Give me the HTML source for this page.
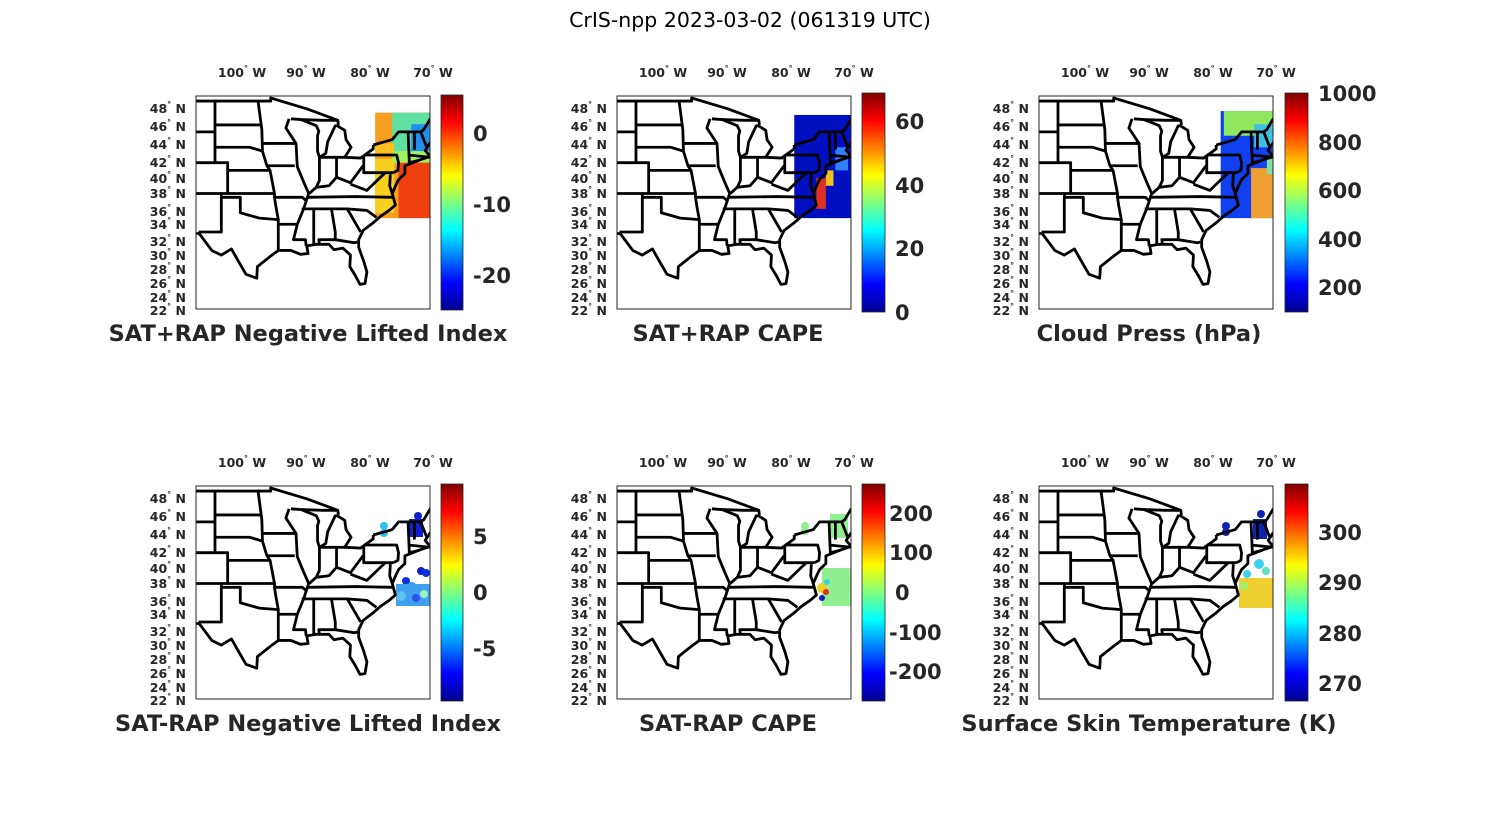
<!DOCTYPE html>
<html><head><meta charset="utf-8"><style>
html,body{margin:0;padding:0;background:#fff}
svg{display:block}
text{font-family:"DejaVu Sans","Liberation Sans",sans-serif;fill:#262626}
.lon{font-size:12.5px;font-weight:bold;text-anchor:middle}
.lat{font-size:12.5px;font-weight:bold;text-anchor:end}
.cb{font-size:21px;font-weight:bold}
.ttl{font-size:22.5px;font-weight:bold;text-anchor:middle}
.st{fill:none;stroke:#000;stroke-width:2.8;stroke-linejoin:round}
</style></head><body>
<svg width="1500" height="825" viewBox="0 0 1500 825" xmlns="http://www.w3.org/2000/svg">
<defs>
<linearGradient id="jet" x1="0" y1="1" x2="0" y2="0">
<stop offset="0" stop-color="#00008f"/><stop offset="0.125" stop-color="#0000ff"/>
<stop offset="0.375" stop-color="#00ffff"/><stop offset="0.625" stop-color="#ffff00"/>
<stop offset="0.875" stop-color="#ff0000"/><stop offset="1" stop-color="#800000"/>
</linearGradient>
<clipPath id="box"><rect x="0" y="0" width="234" height="213"/></clipPath>
<g id="map" class="st">
<polyline vector-effect="non-scaling-stroke" points="-67,47.4 -67,45 -70,43.6 -70.8,42.6 -70,41.8 -71.5,41.4 -74,40.6 -74,39.6 -75,38.8 -75.3,38.3 -76,37 -75.5,35.5 -76.5,34.8 -77.9,34 -79,33.2 -80.6,32.2 -81.3,31 -81.3,30 -80.5,28.2 -80,26.8 -80.3,25.3 -81.1,25.2 -81.8,26.3 -82.7,27.5 -82.6,29 -83.8,29.9 -85.2,29.7 -86,30.4 -88,30.4 -89.5,30.2 -89.3,29.2 -90.5,29.1 -92,29.6 -94,29.6 -95,29 -97.3,27.5 -97.4,26 -99.1,26.5 -100.3,28.2 -101.4,29.8 -103,29 -104.5,29.6 -106.5,31.8 -107,31.8"/>
<polyline vector-effect="non-scaling-stroke" points="-107,49 -95.2,49 -95.2,49.4 -89.5,48 -84.6,46.5 -84.5,45.9"/>
<polyline vector-effect="non-scaling-stroke" points="-104,49 -104,41 -102,41 -102,37 -103,37 -103,32 -106.6,32"/>
<polyline vector-effect="non-scaling-stroke" points="-107,45 -104,45"/>
<polyline vector-effect="non-scaling-stroke" points="-107,41 -104,41"/>
<polyline vector-effect="non-scaling-stroke" points="-107,37 -103,37"/>
<polyline vector-effect="non-scaling-stroke" points="-104,45.9 -96.6,45.9"/>
<polyline vector-effect="non-scaling-stroke" points="-104,43 -98.5,43 -96.5,42.5"/>
<polyline vector-effect="non-scaling-stroke" points="-102,40 -95.3,40"/>
<polyline vector-effect="non-scaling-stroke" points="-102,37 -94.6,37"/>
<polyline vector-effect="non-scaling-stroke" points="-103,36.5 -100,36.5 -100,34.5 -97,33.8 -94,33.6 -94,29.6"/>
<polyline vector-effect="non-scaling-stroke" points="-97.2,49 -96.6,45.3 -96.5,42.5 -95.8,40.6 -95.3,40 -94.6,37 -94.6,36.5 -94.4,35.4 -94,33.6"/>
<polyline vector-effect="non-scaling-stroke" points="-96.5,43.5 -91.2,43.5"/>
<polyline vector-effect="non-scaling-stroke" points="-95.8,40.6 -91.4,40.6"/>
<polyline vector-effect="non-scaling-stroke" points="-94.6,36.5 -90.2,36.5 -89.5,36"/>
<polyline vector-effect="non-scaling-stroke" points="-94,33 -91.2,33"/>
<polyline vector-effect="non-scaling-stroke" points="-92.3,46.7 -92.8,45.5 -91.2,43.5 -91,40.5 -90,38.5 -89.2,37 -90,35 -91,33 -91.6,31 -89.7,31 -89.6,30.2"/>
<polyline vector-effect="non-scaling-stroke" points="-89.5,36.5 -81.7,36.6 -75.9,36.5"/>
<polyline vector-effect="non-scaling-stroke" points="-90.3,35 -83.1,35 -80,34.8 -78.5,33.9"/>
<polyline vector-effect="non-scaling-stroke" points="-88.4,35 -88.4,30.4"/>
<polyline vector-effect="non-scaling-stroke" points="-85.6,35 -85,32 -85,31 -87.6,31 -87.5,30.4"/>
<polyline vector-effect="non-scaling-stroke" points="-85,31 -82,30.6 -81.5,30.7"/>
<polyline vector-effect="non-scaling-stroke" points="-83.1,35 -81,32"/>
<polyline vector-effect="non-scaling-stroke" points="-89.1,37 -88,37.8 -86,38 -84.8,39.1 -82.6,38.4 -80.6,40.6"/>
<polyline vector-effect="non-scaling-stroke" points="-87.5,41.7 -87.5,38.7 -88,37.8"/>
<polyline vector-effect="non-scaling-stroke" points="-84.8,41.7 -84.8,39.1"/>
<polyline vector-effect="non-scaling-stroke" points="-87.5,41.7 -83.5,41.7"/>
<polyline vector-effect="non-scaling-stroke" points="-80.5,42 -80.5,39.7 -75.8,39.7"/>
<polyline vector-effect="non-scaling-stroke" points="-80.5,42 -75.3,42 -75,41 -75.1,40 -75.8,39.7"/>
<polyline vector-effect="non-scaling-stroke" points="-82.6,38.2 -80,37.4 -78,39 -77.2,39.6"/>
<polyline vector-effect="non-scaling-stroke" points="-73.5,45 -73.3,41 -71.8,41.3"/>
<polyline vector-effect="non-scaling-stroke" points="-71.5,45 -70.6,43.1"/>
<polyline vector-effect="non-scaling-stroke" points="-72.5,45 -72.5,42.7"/>
<polyline vector-effect="non-scaling-stroke" points="-73.5,42 -70,41.7"/>
<polyline vector-effect="non-scaling-stroke" points="-79,43.3 -76,44 -75,45 -71.5,45 -71,45.3 -70,46.7 -69,47.4 -67.8,47"/>
<polyline vector-effect="non-scaling-stroke" points="-92,46.7 -90.4,46.6 -88,45.8 -87.6,45.1 -87.8,44.5 -87.8,42.5 -87.5,41.7 -86.5,42.2 -86.2,43.7 -85,45.8 -84.7,45.8 -83.5,45.2 -83.3,44 -82.5,43 -83.5,41.7 -81,41.6 -79,42.8 -79,43.3"/>
<polyline vector-effect="non-scaling-stroke" points="-90.4,46.6 -87,46.5 -84.6,46.5"/>
<polyline vector-effect="non-scaling-stroke" points="-76.3,39.5 -76.4,38 -76,37"/>
</g>
</defs>

<text x="750" y="27" style="font-size:20.5px;text-anchor:middle;fill:#000">CrIS-npp 2023-03-02 (061319 UTC)</text>

<g id="axlab">
<text class="lon" x="242" y="77">100<tspan dy="-6" font-size="8">°</tspan><tspan dy="6"> W</tspan></text>
<text class="lon" x="306" y="77">90<tspan dy="-6" font-size="8">°</tspan><tspan dy="6"> W</tspan></text>
<text class="lon" x="370" y="77">80<tspan dy="-6" font-size="8">°</tspan><tspan dy="6"> W</tspan></text>
<text class="lon" x="433" y="77">70<tspan dy="-6" font-size="8">°</tspan><tspan dy="6"> W</tspan></text>
<text class="lat" x="186" y="113">48<tspan dy="-6" font-size="8">°</tspan><tspan dy="6"> N</tspan></text>
<text class="lat" x="186" y="131">46<tspan dy="-6" font-size="8">°</tspan><tspan dy="6"> N</tspan></text>
<text class="lat" x="186" y="149">44<tspan dy="-6" font-size="8">°</tspan><tspan dy="6"> N</tspan></text>
<text class="lat" x="186" y="167">42<tspan dy="-6" font-size="8">°</tspan><tspan dy="6"> N</tspan></text>
<text class="lat" x="186" y="183">40<tspan dy="-6" font-size="8">°</tspan><tspan dy="6"> N</tspan></text>
<text class="lat" x="186" y="198">38<tspan dy="-6" font-size="8">°</tspan><tspan dy="6"> N</tspan></text>
<text class="lat" x="186" y="216">36<tspan dy="-6" font-size="8">°</tspan><tspan dy="6"> N</tspan></text>
<text class="lat" x="186" y="229">34<tspan dy="-6" font-size="8">°</tspan><tspan dy="6"> N</tspan></text>
<text class="lat" x="186" y="246">32<tspan dy="-6" font-size="8">°</tspan><tspan dy="6"> N</tspan></text>
<text class="lat" x="186" y="260">30<tspan dy="-6" font-size="8">°</tspan><tspan dy="6"> N</tspan></text>
<text class="lat" x="186" y="274">28<tspan dy="-6" font-size="8">°</tspan><tspan dy="6"> N</tspan></text>
<text class="lat" x="186" y="288">26<tspan dy="-6" font-size="8">°</tspan><tspan dy="6"> N</tspan></text>
<text class="lat" x="186" y="302">24<tspan dy="-6" font-size="8">°</tspan><tspan dy="6"> N</tspan></text>
<text class="lat" x="186" y="315">22<tspan dy="-6" font-size="8">°</tspan><tspan dy="6"> N</tspan></text>
</g>
<use href="#axlab" x="421" y="0"/><use href="#axlab" x="843" y="0"/>
<use href="#axlab" x="0" y="390"/><use href="#axlab" x="421" y="390"/><use href="#axlab" x="843" y="390"/>

<!-- Panel 1 -->
<g transform="translate(196,96)"><g clip-path="url(#box)">
<g transform="scale(6.33,7.7) translate(107,49.66) scale(1,-1)">
<rect x="-78.7" y="33.8" width="11.7" height="13.7" fill="#f5a020"/>
<rect x="-76" y="42.5" width="9" height="5" fill="#60e0a0"/>
<rect x="-73" y="42" width="6" height="4" fill="#2090f0"/>
<rect x="-78.7" y="42" width="3" height="1.5" fill="#ffc020"/>
<rect x="-75" y="33.8" width="8" height="7.4" fill="#f04010"/>
<rect x="-78.7" y="34.5" width="3" height="7" fill="#f8d020"/>
<rect x="-76" y="41" width="6" height="1.5" fill="#a0f060"/>
</g>
<use href="#map" transform="scale(6.33,7.7) translate(107,49.66) scale(1,-1)"/>
</g><rect x="0" y="0" width="234" height="213" fill="none" stroke="#262626" stroke-width="1"/></g>
<rect x="441" y="95" width="22" height="215" fill="url(#jet)" stroke="#262626" stroke-width="0.8"/>
<text class="cb" x="473" y="141">0</text><text class="cb" x="473" y="212">-10</text><text class="cb" x="473" y="283">-20</text>
<text class="ttl" x="308" y="341">SAT+RAP Negative Lifted Index</text>

<!-- Panel 2 -->
<g transform="translate(617,96)"><g clip-path="url(#box)">
<g transform="scale(6.33,7.7) translate(107,49.66) scale(1,-1)">
<rect x="-79" y="33.8" width="12" height="13.4" fill="#0010c0"/>
<rect x="-72.5" y="40" width="2" height="3" fill="#3080ff"/>
<rect x="-75.5" y="35" width="1.5" height="4" fill="#e03020"/>
<rect x="-74" y="38" width="1.2" height="2" fill="#f0c020"/>
</g>
<use href="#map" transform="scale(6.33,7.7) translate(107,49.66) scale(1,-1)"/>
</g><rect x="0" y="0" width="234" height="213" fill="none" stroke="#262626" stroke-width="1"/></g>
<rect x="862" y="93" width="23" height="219" fill="url(#jet)" stroke="#262626" stroke-width="0.8"/>
<text class="cb" x="895" y="129">60</text><text class="cb" x="895" y="193">40</text><text class="cb" x="895" y="256">20</text><text class="cb" x="895" y="320">0</text>
<text class="ttl" x="728" y="341">SAT+RAP CAPE</text>

<!-- Panel 3 -->
<g transform="translate(1039,96)"><g clip-path="url(#box)">
<g transform="scale(6.33,7.7) translate(107,49.66) scale(1,-1)">
<rect x="-78.3" y="33.8" width="11.3" height="13.9" fill="#1040f0"/>
<rect x="-77.8" y="44.5" width="10.8" height="3.2" fill="#90e860"/>
<rect x="-73" y="43" width="6" height="3" fill="#40c0e0"/>
<rect x="-73.5" y="33.8" width="6.5" height="6.5" fill="#f0a030"/>
<rect x="-71" y="39.5" width="4" height="2" fill="#80e0a0"/>
</g>
<use href="#map" transform="scale(6.33,7.7) translate(107,49.66) scale(1,-1)"/>
</g><rect x="0" y="0" width="234" height="213" fill="none" stroke="#262626" stroke-width="1"/></g>
<rect x="1285" y="93" width="23" height="219" fill="url(#jet)" stroke="#262626" stroke-width="0.8"/>
<text class="cb" x="1318" y="101">1000</text><text class="cb" x="1318" y="150">800</text><text class="cb" x="1318" y="198">600</text><text class="cb" x="1318" y="247">400</text><text class="cb" x="1318" y="295">200</text>
<text class="ttl" x="1149" y="341">Cloud Press (hPa)</text>

<!-- Panel 4 -->
<g transform="translate(196,486)"><g clip-path="url(#box)">
<circle cx="188" cy="40" r="4" fill="#30c0f0"/><circle cx="188" cy="47" r="4" fill="#30c0f0"/>
<rect x="213" y="33" width="14" height="18" fill="#1020d0"/><circle cx="222" cy="30" r="4" fill="#1020d0"/>
<circle cx="210" cy="95" r="4" fill="#1030e0"/><circle cx="216" cy="100" r="4" fill="#30a0f0"/>
<rect x="200" y="98" width="34" height="22" fill="#40a0f0"/><circle cx="225" cy="85" r="4" fill="#1020d0"/>
<circle cx="230" cy="87" r="4" fill="#1030e0"/><circle cx="205" cy="110" r="5" fill="#60c0f0"/>
<circle cx="220" cy="112" r="4" fill="#3050f0"/><circle cx="228" cy="108" r="4" fill="#a0f0c0"/>
<use href="#map" transform="scale(6.33,7.7) translate(107,49.66) scale(1,-1)"/>
</g><rect x="0" y="0" width="234" height="213" fill="none" stroke="#262626" stroke-width="1"/></g>
<rect x="441" y="484" width="22" height="217" fill="url(#jet)" stroke="#262626" stroke-width="0.8"/>
<text class="cb" x="473" y="544">5</text><text class="cb" x="473" y="600">0</text><text class="cb" x="473" y="656">-5</text>
<text class="ttl" x="308" y="731">SAT-RAP Negative Lifted Index</text>

<!-- Panel 5 -->
<g transform="translate(617,486)"><g clip-path="url(#box)">
<circle cx="188" cy="40" r="4" fill="#90f090"/><circle cx="188" cy="45" r="4" fill="#90f090"/>
<rect x="213" y="28" width="18" height="24" fill="#90f090"/>
<rect x="205" y="82" width="29" height="38" fill="#90f090"/>
<circle cx="205" cy="102" r="5" fill="#f0d020"/><circle cx="209" cy="106" r="3" fill="#e03020"/>
<circle cx="205" cy="112" r="3" fill="#1020c0"/><circle cx="210" cy="96" r="3" fill="#40d0e0"/>
<use href="#map" transform="scale(6.33,7.7) translate(107,49.66) scale(1,-1)"/>
</g><rect x="0" y="0" width="234" height="213" fill="none" stroke="#262626" stroke-width="1"/></g>
<rect x="862" y="484" width="23" height="217" fill="url(#jet)" stroke="#262626" stroke-width="0.8"/>
<text class="cb" x="889" y="521">200</text><text class="cb" x="889" y="560">100</text><text class="cb" x="895" y="600">0</text><text class="cb" x="889" y="640">-100</text><text class="cb" x="889" y="679">-200</text>
<text class="ttl" x="728" y="731">SAT-RAP CAPE</text>

<!-- Panel 6 -->
<g transform="translate(1039,486)"><g clip-path="url(#box)">
<circle cx="187" cy="40" r="4" fill="#1020b0"/><circle cx="187" cy="46" r="4" fill="#1020b0"/>
<rect x="214" y="33" width="14" height="20" fill="#1020b0"/><circle cx="222" cy="28" r="4" fill="#1020b0"/>
<rect x="200" y="92" width="34" height="30" fill="#f0d030"/>
<circle cx="208" cy="88" r="4" fill="#40d0f0"/><circle cx="220" cy="78" r="5" fill="#40d0f0"/><circle cx="227" cy="85" r="4" fill="#60e0c0"/>
<circle cx="205" cy="100" r="4" fill="#a0f070"/>
<use href="#map" transform="scale(6.33,7.7) translate(107,49.66) scale(1,-1)"/>
</g><rect x="0" y="0" width="234" height="213" fill="none" stroke="#262626" stroke-width="1"/></g>
<rect x="1285" y="484" width="23" height="217" fill="url(#jet)" stroke="#262626" stroke-width="0.8"/>
<text class="cb" x="1318" y="540">300</text><text class="cb" x="1318" y="590">290</text><text class="cb" x="1318" y="641">280</text><text class="cb" x="1318" y="691">270</text>
<text class="ttl" x="1149" y="731">Surface Skin Temperature (K)</text>
</svg>
</body></html>
